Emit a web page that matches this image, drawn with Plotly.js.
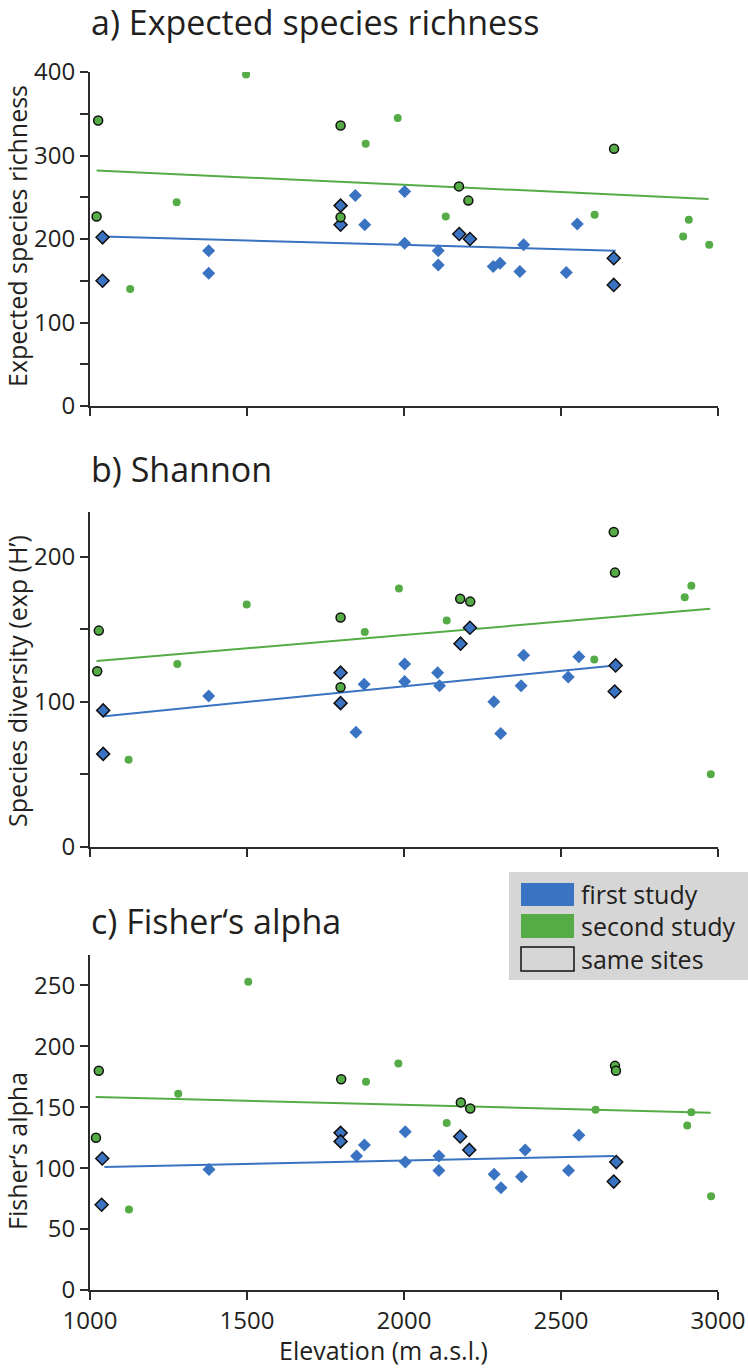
<!DOCTYPE html>
<html>
<head>
<meta charset="utf-8">
<script src="https://cdn.plot.ly/plotly-3.0.1.min.js"></script>
<style>
  body { margin: 0; background: #fff; }
  #myDiv { width: 748px; height: 1368px; }
</style>
</head>
<body>
<div id="myDiv"></div>
<script>
// a) expected species richness
var aBlueX = [1378, 1378, 1845, 1875, 2002, 2002, 2109, 2109, 2284, 2306, 2369, 2381, 2517, 2552];
var aBlueY = [186, 159, 252, 217, 257, 195, 186, 169, 167, 171, 161, 193, 160, 218];
var aBlueSameX = [1040, 1040, 1798, 1798, 2176, 2210, 2668, 2668];
var aBlueSameY = [202, 150, 240, 217, 206, 200, 177, 145];
var aGreenX = [1128, 1276, 1497, 1878, 1980, 2133, 2607, 2889, 2907, 2972];
var aGreenY = [140, 244, 397, 314, 345, 227, 229, 203, 223, 193];
var aGreenSameX = [1026, 1021, 1798, 1798, 2175, 2205, 2669];
var aGreenSameY = [342, 227, 336, 226, 263, 246, 308];
var aBlueFitX = [1042, 2674], aBlueFitY = [203, 186];
var aGreenFitX = [1021, 2970], aGreenFitY = [282, 248];

// b) shannon
var bBlueX = [1378, 1847, 1873, 2002, 2002, 2107, 2113, 2286, 2308, 2373, 2381, 2523, 2557];
var bBlueY = [104, 79, 112, 126, 114, 120, 111, 100, 78, 111, 132, 117, 131];
var bBlueSameX = [1042, 1042, 1798, 1798, 2180, 2210, 2674, 2671];
var bBlueSameY = [94, 64, 120, 99, 140, 151, 125, 107];
var bGreenX = [1123, 1278, 1499, 1875, 1984, 2136, 2606, 2894, 2915, 2977];
var bGreenY = [60, 126, 167, 148, 178, 156, 129, 172, 180, 50];
var bGreenSameX = [1028, 1023, 1798, 1798, 2179, 2211, 2668, 2672];
var bGreenSameY = [149, 121, 158, 110, 171, 169, 217, 189];
var bBlueFitX = [1046, 2672], bBlueFitY = [90, 125];
var bGreenFitX = [1021, 2975], bGreenFitY = [128, 164];

// c) fisher's alpha
var cBlueX = [1379, 1849, 1874, 2004, 2004, 2111, 2111, 2287, 2309, 2374, 2386, 2524, 2557];
var cBlueY = [99, 110, 119, 130, 105, 110, 98, 95, 84, 93, 115, 98, 127];
var cBlueSameX = [1039, 1037, 1798, 1798, 2179, 2208, 2676, 2668];
var cBlueSameY = [108, 70, 129, 122, 126, 115, 105, 89];
var cGreenX = [1124, 1281, 1504, 1879, 1982, 2136, 2610, 2902, 2915, 2978];
var cGreenY = [66, 161, 253, 171, 186, 137, 148, 135, 146, 77];
var cGreenSameX = [1028, 1019, 1800, 2181, 2211, 2672, 2675];
var cGreenSameY = [180, 125, 173, 154, 149, 184, 180];
var cBlueFitX = [1046, 2670], cBlueFitY = [101, 110];
var cGreenFitX = [1018, 2977], cGreenFitY = [158.5, 145.6];

var xTicks = [1000, 1500, 2000, 2500, 3000];
var legendLabels = ['first study', 'second study', 'same sites'];

var blue = '#3a73c2';
var green = '#55ac46';
var ink = '#231f20';
var axisCol = '#2b2b2b';
var fnt = 'Open Sans, sans-serif';

function panel(xa, ya, p) {
    return [
        { x: p.gfx, y: p.gfy, xaxis: xa, yaxis: ya, mode: 'lines', type: 'scatter',
          line: { color: green, width: 2 } },
        { x: p.bfx, y: p.bfy, xaxis: xa, yaxis: ya, mode: 'lines', type: 'scatter',
          line: { color: blue, width: 2 } },
        { x: p.gx, y: p.gy, xaxis: xa, yaxis: ya, mode: 'markers', type: 'scatter',
          marker: { symbol: 'circle', size: 8, color: green } },
        { x: p.bx, y: p.by, xaxis: xa, yaxis: ya, mode: 'markers', type: 'scatter',
          marker: { symbol: 'diamond', size: 10, color: blue } },
        { x: p.bsx, y: p.bsy, xaxis: xa, yaxis: ya, mode: 'markers', type: 'scatter',
          marker: { symbol: 'diamond', size: 10, color: blue, line: { color: '#111', width: 1.5 } } },
        { x: p.gsx, y: p.gsy, xaxis: xa, yaxis: ya, mode: 'markers', type: 'scatter',
          marker: { symbol: 'circle', size: 9, color: green, line: { color: '#111', width: 1.5 } } }
    ];
}

var data = []
    .concat(panel('x', 'y', { gfx: aGreenFitX, gfy: aGreenFitY, bfx: aBlueFitX, bfy: aBlueFitY,
        gx: aGreenX, gy: aGreenY, bx: aBlueX, by: aBlueY, bsx: aBlueSameX, bsy: aBlueSameY,
        gsx: aGreenSameX, gsy: aGreenSameY }))
    .concat(panel('x2', 'y2', { gfx: bGreenFitX, gfy: bGreenFitY, bfx: bBlueFitX, bfy: bBlueFitY,
        gx: bGreenX, gy: bGreenY, bx: bBlueX, by: bBlueY, bsx: bBlueSameX, bsy: bBlueSameY,
        gsx: bGreenSameX, gsy: bGreenSameY }))
    .concat(panel('x3', 'y3', { gfx: cGreenFitX, gfy: cGreenFitY, bfx: cBlueFitX, bfy: cBlueFitY,
        gx: cGreenX, gy: cGreenY, bx: cBlueX, by: cBlueY, bsx: cBlueSameX, bsy: cBlueSameY,
        gsx: cGreenSameX, gsy: cGreenSameY }));

function xAxis(anchor, labels) {
    return {
        anchor: anchor, range: [1000, 3000], tickvals: xTicks, showticklabels: labels,
        showline: true, linecolor: axisCol, linewidth: 2, ticks: 'outside', ticklen: 8,
        tickwidth: 2, tickcolor: axisCol, showgrid: false, zeroline: false,
        tickfont: { family: fnt, size: 24, color: ink }
    };
}
function yAxis(anchor, dom, rng, dt, minor) {
    var ax = {
        anchor: anchor, domain: dom, range: rng, dtick: dt, tick0: 0,
        showline: true, linecolor: axisCol, linewidth: 2, ticks: 'outside', ticklen: 8,
        tickwidth: 2, tickcolor: axisCol, showgrid: false, zeroline: false,
        tickfont: { family: fnt, size: 24, color: ink }
    };
    if (minor) ax.minor = { dtick: 50, ticks: 'outside', ticklen: 8, tickwidth: 2, tickcolor: axisCol, showgrid: false };
    return ax;
}

function pxY(py) { return (1290 - py) / 1218; }
function pxX(px) { return (px - 90) / 628; }

var annots = [
    { text: 'a) Expected species richness', x: 0, y: pxY(22), xanchor: 'left', yanchor: 'middle', fs: 34 },
    { text: 'b) Shannon', x: 0, y: pxY(469), xanchor: 'left', yanchor: 'middle', fs: 34 },
    { text: 'c) Fisher‘s alpha', x: 0, y: pxY(921), xanchor: 'left', yanchor: 'middle', fs: 34 },
    { text: 'Expected species richness', x: pxX(17), y: pxY(236), xanchor: 'center', yanchor: 'middle', fs: 25, rot: -90 },
    { text: 'Species diversity (exp (H’)', x: pxX(17), y: pxY(681), xanchor: 'center', yanchor: 'middle', fs: 25, rot: -90 },
    { text: 'Fisher‘s alpha', x: pxX(17), y: pxY(1151), xanchor: 'center', yanchor: 'middle', fs: 25, rot: -90 },
    { text: 'Elevation (m a.s.l.)', x: pxX(383), y: pxY(1350), xanchor: 'center', yanchor: 'middle', fs: 25 }
].map(function (a) {
    return { text: a.text, xref: 'paper', yref: 'paper', x: a.x, y: a.y, xanchor: a.xanchor,
        yanchor: a.yanchor, showarrow: false, textangle: a.rot || 0, borderpad: 0,
        font: { family: fnt, size: a.fs, color: ink } };
});

// legend box drawn by hand
var shapes = [
    { type: 'rect', xref: 'paper', yref: 'paper', x0: pxX(509), x1: pxX(760), y0: pxY(980), y1: pxY(872),
      fillcolor: '#d6d6d6', line: { width: 0 } },
    { type: 'rect', xref: 'paper', yref: 'paper', x0: pxX(521), x1: pxX(574), y0: pxY(906), y1: pxY(883),
      fillcolor: blue, line: { width: 0 } },
    { type: 'rect', xref: 'paper', yref: 'paper', x0: pxX(521), x1: pxX(574), y0: pxY(938), y1: pxY(914),
      fillcolor: green, line: { width: 0 } },
    { type: 'rect', xref: 'paper', yref: 'paper', x0: pxX(521), x1: pxX(574), y0: pxY(971), y1: pxY(947),
      fillcolor: '#d6d6d6', line: { color: '#111', width: 1.5 } }
];
var legY = [894, 926, 959];
for (var i = 0; i < legendLabels.length; i++) {
    annots.push({ text: legendLabels[i], xref: 'paper', yref: 'paper', x: pxX(579), y: pxY(legY[i]),
        xanchor: 'left', yanchor: 'middle', showarrow: false,
        font: { family: fnt, size: 25, color: ink } });
}

var layout = {
    width: 748, height: 1368,
    margin: { l: 90, r: 30, t: 72, b: 78 },
    paper_bgcolor: '#ffffff', plot_bgcolor: '#ffffff',
    showlegend: false,
    font: { family: fnt, color: ink },
    xaxis: xAxis('y', false),
    xaxis2: xAxis('y2', false),
    xaxis3: xAxis('y3', true),
    yaxis: yAxis('x', [pxY(406), 1], [0, 400], 100, true),
    yaxis2: yAxis('x2', [pxY(846.7), pxY(511.7)], [0, 231], 100, true),
    yaxis3: yAxis('x3', [0, pxY(955)], [0, 275], 50, false),
    annotations: annots,
    shapes: shapes
};

Plotly.newPlot('myDiv', data, layout, { displayModeBar: false });
</script>
</body>
</html>
